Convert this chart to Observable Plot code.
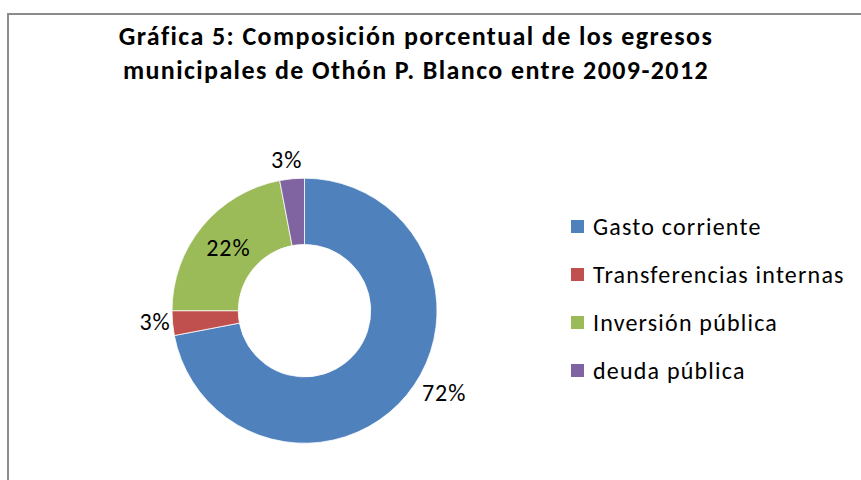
<!DOCTYPE html>
<html>
<head>
<meta charset="utf-8">
<script src="https://cdn.jsdelivr.net/npm/d3@7"></script>
<script src="https://cdn.jsdelivr.net/npm/@observablehq/plot@0.6"></script>
<style>
  body { margin: 0; background: #fff; font-family: Carlito, Calibri, Lato, sans-serif; }
  #wrap { position: relative; width: 861px; height: 480px; overflow: hidden; background: #fff; }
  #frame { position: absolute; left: 7px; top: 13px; width: 900px; height: 520px;
           border-left: 2px solid #8c8c8c; border-top: 2px solid #8c8c8c; }
  #title { position: absolute; left: 0; width: 832px; top: 20px; text-align: center;
           font-weight: bold; font-size: 26px; line-height: 33.5px; letter-spacing: 1.4px; color: #000; }
  #chart { position: absolute; left: 0; top: 0; }
  #legend { position: absolute; left: 571px; top: 203px; }
  .row { display: flex; align-items: center; height: 47.8px; font-size: 24px; letter-spacing: 1.2px; color: #000; white-space: nowrap; }
  .sw { width: 13px; height: 13px; margin-right: 9px; flex: none; }
</style>
</head>
<body>
<div id="wrap">
  <div id="frame"></div>
  <div id="chart"></div>
  <div id="title">Gráfica 5: Composición porcentual de los egresos<br>municipales de Othón P. Blanco entre 2009-2012</div>
  <div id="legend"></div>
</div>
<script>
// ---- data ----
const categories = ["Gasto corriente", "Transferencias internas", "Inversión pública", "deuda pública"];
const values = [72, 3, 22, 3];
const labels = ["72%", "3%", "22%", "3%"];
const colors = ["#4F81BD", "#C0504D", "#9BBB59", "#8064A2"];

// ---- layout / style (not data) ----
const cx = 304.5, cy = 310.7, R = 132.5, innerFrac = 0.5;
// label placement: radius as fraction of outer radius, angle nudge in degrees
const placement = {
  "Gasto corriente": {r: 1.22, da: -9},
  "Transferencias internas": {r: 1.135, da: 1},
  "Inversión pública": {r: 0.75, da: 0},
  "deuda pública": {r: 1.145, da: -1.5}
};

const color = Plot.scale({color: {type: "ordinal", domain: categories, range: colors}});

const pie = d3.pie().sort(null).value(d => d.value);
const table = categories.map((c, i) => ({category: c, value: values[i], label: labels[i]}));
const arcs = pie(table);
const labelData = arcs.map(a => {
  const p = placement[a.data.category];
  const ang = (a.startAngle + a.endAngle) / 2 + p.da * Math.PI / 180;
  return {label: a.data.label, x: p.r * Math.sin(ang), y: p.r * Math.cos(ang)};
});

function donut(index, scales) {
  const x0 = scales.x(0), y0 = scales.y(0);
  const r = scales.x(1) - x0;
  const arc = d3.arc().innerRadius(r * innerFrac).outerRadius(r);
  const g = d3.create("svg:g").attr("transform", `translate(${x0},${y0})`);
  g.selectAll("path").data(arcs).join("path")
    .attr("d", arc)
    .attr("fill", d => color.apply(d.data.category))
    .attr("stroke", "#fff")
    .attr("stroke-width", 0.75);
  return g.node();
}

const chart = Plot.plot({
  width: 861,
  height: 480,
  margin: 0,
  x: {domain: [-1, 1], range: [cx - R, cx + R], axis: null},
  y: {domain: [1, -1], range: [cy - R, cy + R], axis: null},
  style: {background: "transparent", fontFamily: "Carlito, Calibri, Lato, sans-serif", letterSpacing: "1px"},
  marks: [
    donut,
    Plot.text(labelData, {x: "x", y: "y", text: "label", fontSize: 24, fill: "#000"})
  ]
});
document.getElementById("chart").appendChild(chart);

const legend = document.getElementById("legend");
categories.forEach(c => {
  const row = document.createElement("div");
  row.className = "row";
  const sw = document.createElement("span");
  sw.className = "sw";
  sw.style.background = color.apply(c);
  const t = document.createElement("span");
  t.textContent = c;
  row.appendChild(sw);
  row.appendChild(t);
  legend.appendChild(row);
});
</script>
</body>
</html>
